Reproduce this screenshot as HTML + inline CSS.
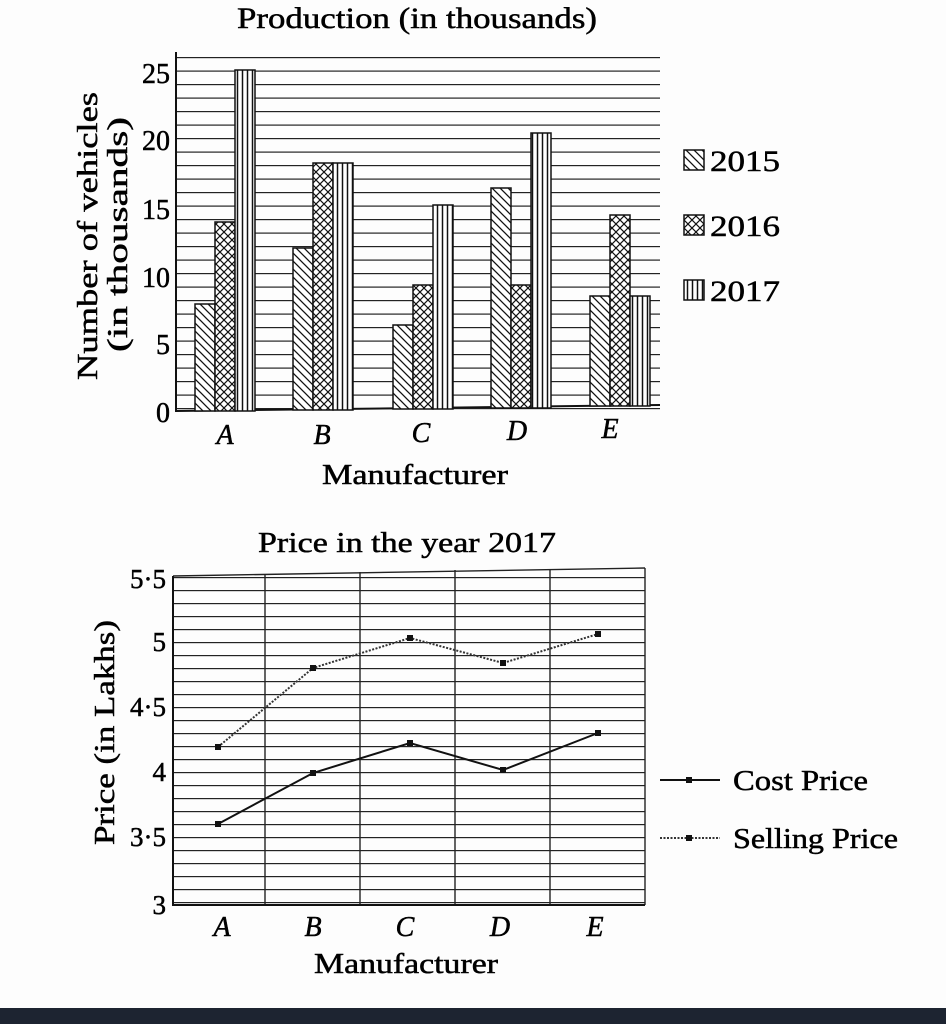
<!DOCTYPE html>
<html><head><meta charset="utf-8"><style>
html,body{margin:0;padding:0;background:#fdfdfd;}
svg{display:block;font-family:"Liberation Serif",serif;}
text{stroke:#000;stroke-width:0.5;}
</style></head><body>
<svg width="946" height="1024" viewBox="0 0 946 1024" xmlns="http://www.w3.org/2000/svg">
<defs>
<pattern id="hl" width="10" height="13.5" patternUnits="userSpaceOnUse" y="3"><line x1="0" y1="0.5" x2="10" y2="0.5" stroke="#222" stroke-width="1.4"/></pattern>
<pattern id="hl2" width="10" height="13" patternUnits="userSpaceOnUse" y="5"><line x1="0" y1="0.5" x2="10" y2="0.5" stroke="#222" stroke-width="1.4"/></pattern>
<pattern id="p15" width="8" height="8" patternUnits="userSpaceOnUse"><rect width="8" height="8" fill="#fff"/><path d="M0,0 L8,8 M-2,6 L2,10 M6,-2 L10,2" stroke="#111" stroke-width="1.3"/></pattern>
<pattern id="p16" width="8" height="8" patternUnits="userSpaceOnUse"><rect width="8" height="8" fill="#fff"/><path d="M0,0 L8,8 M8,0 L0,8" stroke="#111" stroke-width="1.2"/></pattern>
<pattern id="p17" width="5" height="8" patternUnits="userSpaceOnUse"><rect width="5" height="8" fill="#fff"/><line x1="2.5" y1="0" x2="2.5" y2="8" stroke="#111" stroke-width="1.5"/></pattern>
</defs>
<rect width="946" height="1024" fill="#fdfdfd"/>

<!-- TOP CHART -->
<text x="237" y="28" font-size="30" textLength="360" lengthAdjust="spacingAndGlyphs">Production (in thousands)</text>
<rect x="176" y="52" width="484" height="358" fill="url(#hl)"/>
<line x1="176" y1="52" x2="176" y2="412" stroke="#111" stroke-width="2"/>
<line x1="176" y1="411" x2="660" y2="405" stroke="#111" stroke-width="2"/>
<g font-size="28" text-anchor="end">
<text x="170" y="83">25</text><text x="170" y="150">20</text><text x="170" y="219">15</text>
<text x="170" y="287">10</text><text x="170" y="354">5</text><text x="170" y="422">0</text>
</g>
<g stroke="#111" stroke-width="1.5">
<rect x="195" y="304" width="20" height="107" fill="url(#p15)"/>
<rect x="215" y="222" width="20" height="189" fill="url(#p16)"/>
<rect x="235" y="70" width="20" height="341" fill="url(#p17)"/>
<rect x="293" y="248" width="20" height="162" fill="url(#p15)"/>
<rect x="313" y="163" width="20" height="247" fill="url(#p16)"/>
<rect x="333" y="163" width="20" height="247" fill="url(#p17)"/>
<rect x="393" y="325" width="20" height="84" fill="url(#p15)"/>
<rect x="413" y="285" width="20" height="124" fill="url(#p16)"/>
<rect x="433" y="205" width="20" height="204" fill="url(#p17)"/>
<rect x="491" y="188" width="20" height="220" fill="url(#p15)"/>
<rect x="511" y="285" width="20" height="123" fill="url(#p16)"/>
<rect x="531" y="133" width="20" height="275" fill="url(#p17)"/>
<rect x="590" y="296" width="20" height="110" fill="url(#p15)"/>
<rect x="610" y="215" width="20" height="191" fill="url(#p16)"/>
<rect x="630" y="296" width="20" height="110" fill="url(#p17)"/>
</g>
<g font-size="28" font-style="italic" text-anchor="middle">
<text x="225" y="444">A</text><text x="322" y="444">B</text><text x="421" y="442">C</text><text x="517" y="440">D</text><text x="610" y="438">E</text>
</g>
<text x="322" y="484" font-size="29" textLength="186" lengthAdjust="spacingAndGlyphs">Manufacturer</text>
<text transform="translate(97,380) rotate(-90)" font-size="29" textLength="288" lengthAdjust="spacingAndGlyphs">Number of vehicles</text>
<text transform="translate(127,352) rotate(-90)" font-size="29" textLength="235" lengthAdjust="spacingAndGlyphs">(in thousands)</text>
<g stroke="#111" stroke-width="1.5">
<rect x="684" y="150" width="20" height="20" fill="url(#p15)"/>
<rect x="684" y="215" width="20" height="20" fill="url(#p16)"/>
<rect x="684" y="280" width="20" height="20" fill="url(#p17)"/>
</g>
<g font-size="30"><text x="710" y="171" textLength="70" lengthAdjust="spacingAndGlyphs">2015</text><text x="710" y="236" textLength="70" lengthAdjust="spacingAndGlyphs">2016</text><text x="710" y="301" textLength="70" lengthAdjust="spacingAndGlyphs">2017</text></g>

<!-- BOTTOM CHART -->
<text x="258" y="552" font-size="29" textLength="298" lengthAdjust="spacingAndGlyphs">Price in the year 2017</text>
<rect x="173" y="576" width="472" height="328" fill="url(#hl2)"/>
<g stroke="#222" stroke-width="1.4">
<line x1="265" y1="574" x2="265" y2="905"/><line x1="360" y1="572" x2="360" y2="905"/>
<line x1="455" y1="570" x2="455" y2="905"/><line x1="550" y1="569" x2="550" y2="905"/>
<line x1="645" y1="568" x2="645" y2="905"/>
<line x1="173" y1="576" x2="645" y2="568"/>
</g>
<line x1="173" y1="576" x2="173" y2="906" stroke="#111" stroke-width="2"/>
<line x1="173" y1="905" x2="645" y2="905" stroke="#111" stroke-width="2"/>
<g font-size="27" text-anchor="end">
<text x="166" y="588">5·5</text><text x="166" y="651">5</text><text x="166" y="716">4·5</text>
<text x="166" y="781">4</text><text x="166" y="846">3·5</text><text x="166" y="914">3</text>
</g>
<polyline points="218,824 313,773 410,743 503,770 598,733" fill="none" stroke="#111" stroke-width="2"/>
<polyline points="218,747 313,668 410,638 503,663 598,634" fill="none" stroke="#333" stroke-width="2" stroke-dasharray="2,1.5"/>
<g fill="#111">
<rect x="215" y="821" width="6" height="6"/><rect x="310" y="770" width="6" height="6"/><rect x="407" y="740" width="6" height="6"/><rect x="500" y="767" width="6" height="6"/><rect x="595" y="730" width="6" height="6"/>
<rect x="215" y="744" width="6" height="6"/><rect x="310" y="665" width="6" height="6"/><rect x="407" y="635" width="6" height="6"/><rect x="500" y="660" width="6" height="6"/><rect x="595" y="631" width="6" height="6"/>
</g>
<g font-size="28" font-style="italic" text-anchor="middle">
<text x="222" y="936">A</text><text x="313" y="936">B</text><text x="405" y="936">C</text><text x="500" y="936">D</text><text x="595" y="936">E</text>
</g>
<text x="314" y="973" font-size="29" textLength="184" lengthAdjust="spacingAndGlyphs">Manufacturer</text>
<text transform="translate(114,845) rotate(-90)" font-size="29" textLength="225" lengthAdjust="spacingAndGlyphs">Price (in Lakhs)</text>
<line x1="660" y1="780" x2="720" y2="780" stroke="#111" stroke-width="2"/><rect x="686" y="777" width="6" height="6" fill="#111"/>
<line x1="660" y1="838" x2="720" y2="838" stroke="#333" stroke-width="2" stroke-dasharray="2,1.5"/><rect x="686" y="835" width="6" height="6" fill="#111"/>
<g font-size="29"><text x="733" y="790" textLength="135" lengthAdjust="spacingAndGlyphs">Cost Price</text><text x="733" y="848" textLength="165" lengthAdjust="spacingAndGlyphs">Selling Price</text></g>

<rect x="0" y="1008" width="946" height="16" fill="#1d2431"/>
</svg>
</body></html>
